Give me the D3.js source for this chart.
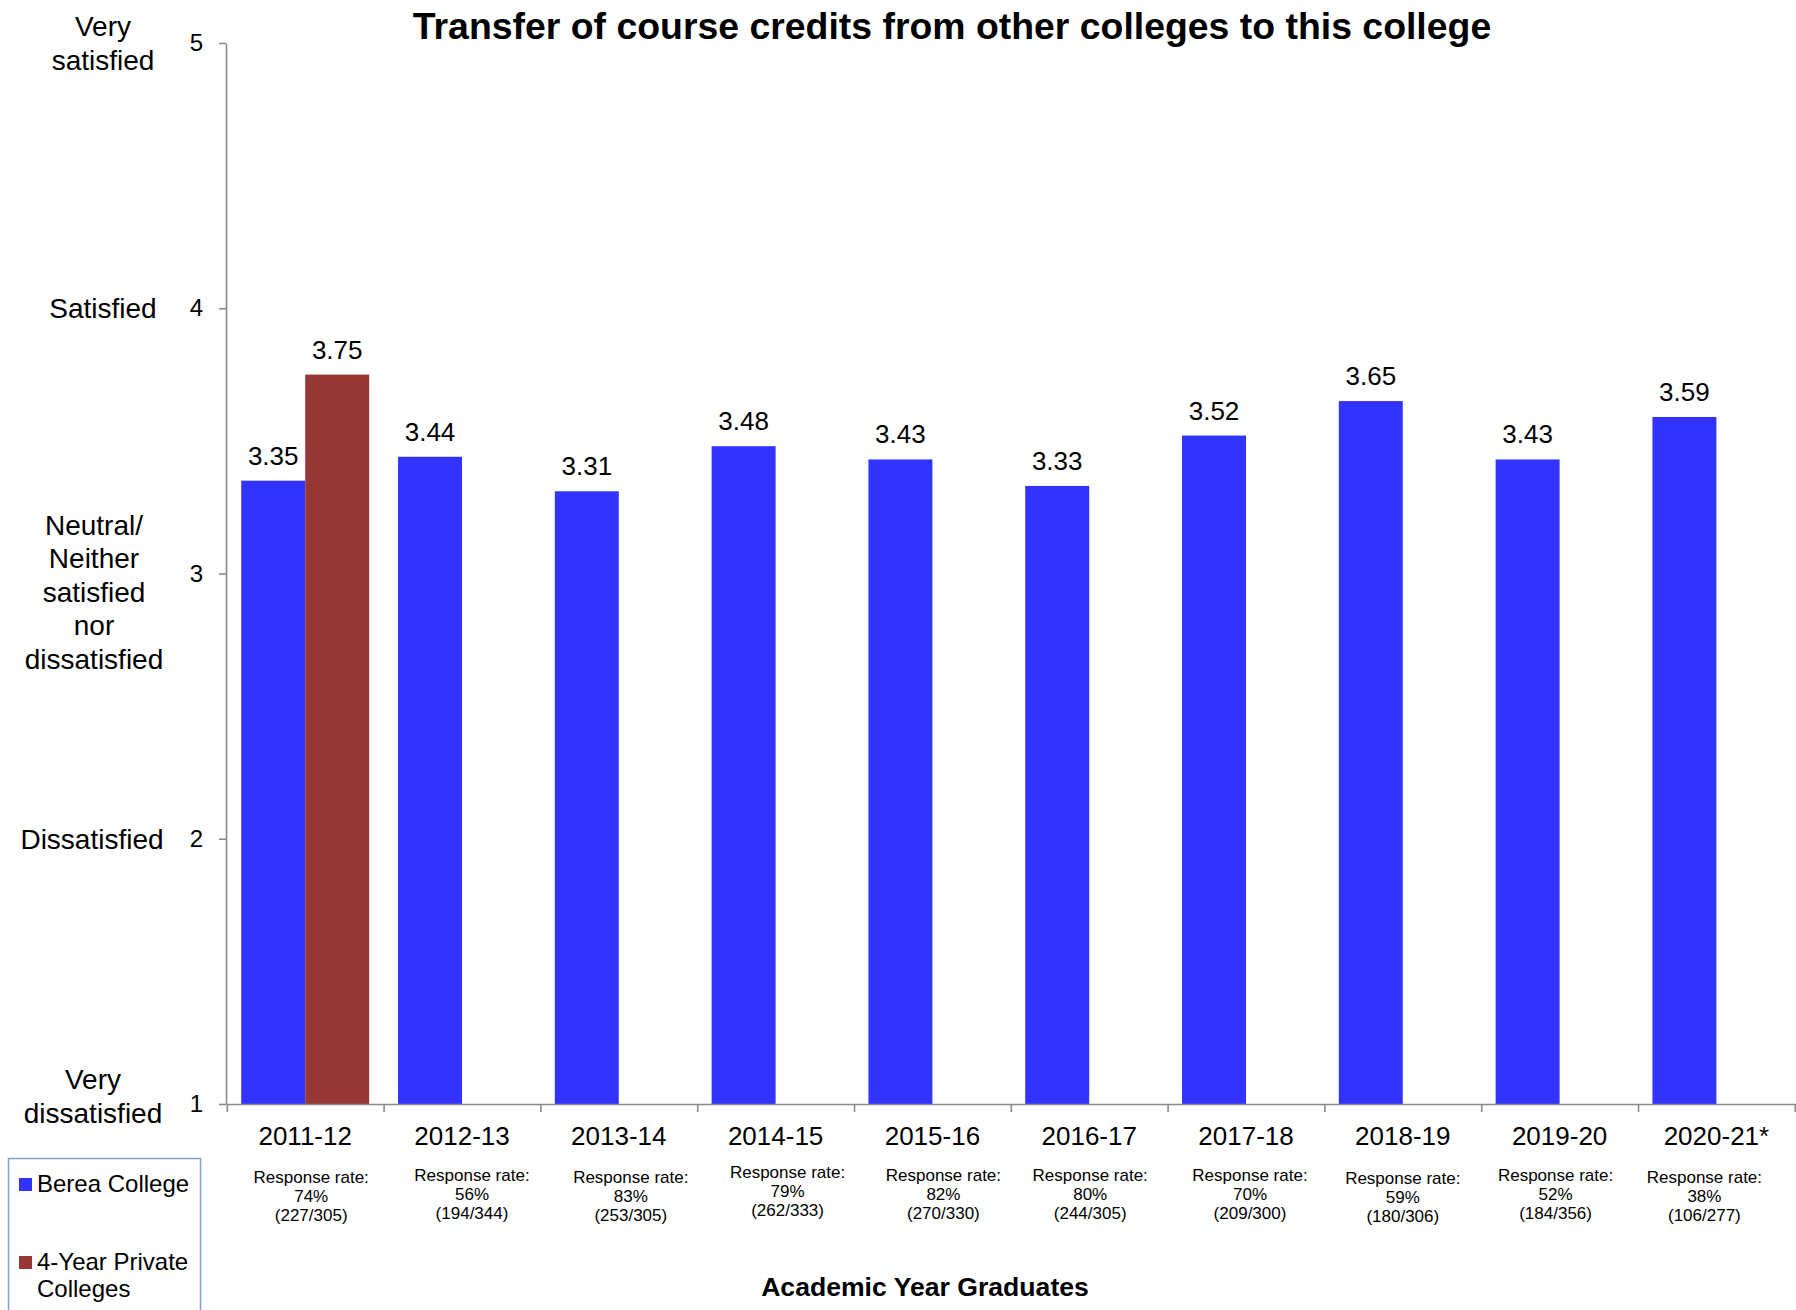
<!DOCTYPE html>
<html>
<head>
<meta charset="utf-8">
<script src="https://cdn.jsdelivr.net/npm/d3@7"></script>
<style>
  html, body { margin: 0; padding: 0; background: #fff; }
  svg { display: block; font-family: "Liberation Sans", Arial, sans-serif; }
</style>
</head>
<body>
<svg id="chart"></svg>
<script>
// chart data
var years = ["2011-12", "2012-13", "2013-14", "2014-15", "2015-16", "2016-17",
             "2017-18", "2018-19", "2019-20", "2020-21*"];
var bereaValues = [3.35, 3.44, 3.31, 3.48, 3.43, 3.33, 3.52, 3.65, 3.43, 3.59];
var privateValues = [3.75, null, null, null, null, null, null, null, null, null];
var seriesNames = ["Berea College", "4-Year Private Colleges"];
var responseRates = ["74%", "56%", "83%", "79%", "82%", "80%", "70%", "59%", "52%", "38%"];
var responseCounts = ["(227/305)", "(194/344)", "(253/305)", "(262/333)", "(270/330)",
                      "(244/305)", "(209/300)", "(180/306)", "(184/356)", "(106/277)"];
var scaleTicks = [1, 2, 3, 4, 5];
var scaleLabels = [["Very", "dissatisfied"], ["Dissatisfied"],
                   ["Neutral/", "Neither", "satisfied", "nor", "dissatisfied"],
                   ["Satisfied"], ["Very", "satisfied"]];

var width = 1796, height = 1310;
var colors = ["#3333ff", "#953735"];
var axisColor = "#898989";

var svg = d3.select("#chart").attr("width", width).attr("height", height);

var y = d3.scaleLinear().domain([1, 5]).range([1104, 43]);
var x = d3.scaleBand().domain(years).range([226.8, 1794.8])
    .paddingInner(0.184).paddingOuter(0.092);
var x1 = d3.scaleBand().domain(seriesNames).range([0, x.bandwidth()]);
var edges = d3.scaleLinear().domain([0, years.length]).range(x.range());

// title
svg.append("text")
    .attr("x", 952).attr("y", 39)
    .attr("text-anchor", "middle")
    .style("font-size", "37.4px").style("font-weight", "bold")
    .text("Transfer of course credits from other colleges to this college");

// bars
var rows = years.map(function(yr, i) {
    return {year: yr, values: [bereaValues[i], privateValues[i]]};
});
var groups = svg.selectAll(".group").data(rows).enter().append("g")
    .attr("class", "group")
    .attr("transform", function(d) { return "translate(" + x(d.year) + ",0)"; });

var cells = groups.selectAll(".cell")
    .data(function(d) {
        return d.values.map(function(v, j) { return {name: seriesNames[j], value: v, j: j}; })
            .filter(function(c) { return c.value != null; });
    })
    .enter();

cells.append("rect")
    .attr("x", function(c) { return x1(c.name); })
    .attr("y", function(c) { return y(c.value); })
    .attr("width", x1.bandwidth())
    .attr("height", function(c) { return y(1) - y(c.value); })
    .attr("fill", function(c) { return colors[c.j]; });

cells.append("text")
    .attr("x", function(c) { return x1(c.name) + x1.bandwidth() / 2; })
    .attr("y", function(c) { return y(c.value) - 16; })
    .attr("text-anchor", "middle")
    .style("font-size", "26px")
    .text(function(c) { return c.value.toFixed(2); });

// y axis
var yAxis = svg.append("g")
    .attr("transform", "translate(226,0)")
    .call(d3.axisLeft(y).tickValues(scaleTicks).tickFormat(d3.format("d"))
        .tickSize(7).tickSizeOuter(0).tickPadding(16));
yAxis.selectAll("path, line").attr("stroke", axisColor).attr("stroke-width", 1.6);
yAxis.selectAll("text").style("font-size", "24px").attr("fill", "#000")
    .style("font-family", "inherit");

// x axis line and boundary ticks
var xAxis = svg.append("g")
    .attr("transform", "translate(0,1104)")
    .call(d3.axisBottom(edges).tickValues(d3.range(years.length + 1))
        .tickFormat("").tickSize(8).tickSizeOuter(0));
xAxis.selectAll("path, line").attr("stroke", axisColor).attr("stroke-width", 1.6);

// category labels
var xLabels = svg.append("g")
    .attr("transform", "translate(0,1104)")
    .call(d3.axisBottom(x).tickSize(0).tickPadding(23));
xLabels.select(".domain").remove();
xLabels.selectAll("text").style("font-size", "26px").attr("fill", "#000")
    .style("font-family", "inherit");

// response rate notes (hand-placed text boxes in the original, so small shifts)
var noteDx = [6, 10, 12, 12, 11, 1, 4, 0, -4, -12];
var noteDy = [0, -2, 0, -5, -2, -2, -2, 1, -2, 0];
var notes = svg.selectAll(".note").data(years).enter().append("text")
    .attr("class", "note")
    .attr("text-anchor", "middle")
    .style("font-size", "17px");
notes.each(function(yr, i) {
    var t = d3.select(this);
    var cx = x(yr) + x.bandwidth() / 2 + noteDx[i];
    ["Response rate:", responseRates[i], responseCounts[i]].forEach(function(s, k) {
        t.append("tspan").attr("x", cx).attr("y", 1183 + noteDy[i] + k * 19).text(s);
    });
});

// satisfaction scale labels
var nudge = {1: [-5, -8], 2: [-6, 0], 3: [-4, 18], 4: [5, 0], 5: [5, 0]};
var lineH = 33.5;
scaleTicks.forEach(function(v, i) {
    var lines = scaleLabels[i];
    var b1 = y(v) + 10 - (lines.length - 1) * lineH / 2 + nudge[v][1];
    var t = svg.append("text")
        .attr("text-anchor", "middle")
        .style("font-size", "28px");
    lines.forEach(function(s, k) {
        t.append("tspan").attr("x", 98 + nudge[v][0]).attr("y", b1 + k * lineH).text(s);
    });
});

// x axis title
svg.append("text")
    .attr("x", 925).attr("y", 1296)
    .attr("text-anchor", "middle")
    .style("font-size", "26.6px").style("font-weight", "bold")
    .text("Academic Year Graduates");

// legend
var legend = svg.append("g");
legend.append("rect")
    .attr("x", 8.5).attr("y", 1158.5).attr("width", 192).attr("height", 200)
    .attr("fill", "none").attr("stroke", "#7f9fd0").attr("stroke-width", 1.5);
var legendLines = [["Berea College"], ["4-Year Private", "Colleges"]];
var legendTop = [1192, 1270];
seriesNames.forEach(function(name, j) {
    legend.append("rect")
        .attr("x", 19).attr("y", legendTop[j] - 14)
        .attr("width", 13).attr("height", 13)
        .attr("fill", colors[j]);
    var t = legend.append("text").style("font-size", "24px");
    legendLines[j].forEach(function(s, k) {
        t.append("tspan").attr("x", 37).attr("y", legendTop[j] + k * 27).text(s);
    });
});
</script>
</body>
</html>
